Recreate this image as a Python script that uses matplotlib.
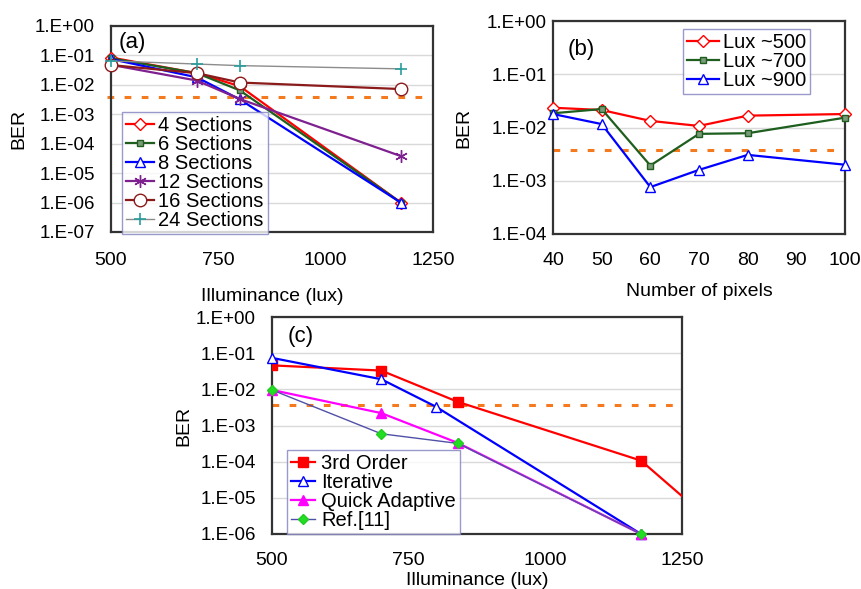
import matplotlib
matplotlib.use("Agg")
import matplotlib.pyplot as plt

plt.rcParams["font.family"] = ["Liberation Sans", "DejaVu Sans"]

# (a) BER vs illuminance for number of sections
lux_a = [500, 700, 800, 1175]
sec4 = [0.085, 0.025, 0.009, 1e-6]
sec6 = [0.08, 0.025, 0.0065, 1e-6]
sec8 = [0.075, 0.018, 0.0032, 1e-6]
sec12 = [0.048, 0.014, 0.0033, 3.8e-5]
sec16 = [0.047, 0.025, 0.012, 0.0072]
sec24 = [0.065, 0.051, 0.045, 0.035]

# (b) BER vs number of pixels
pixels = [40, 50, 60, 70, 80, 100]
lux500 = [0.0235, 0.0213, 0.0133, 0.0107, 0.0167, 0.0179]
lux700 = [0.0185, 0.0222, 0.00193, 0.0076, 0.0078, 0.0153]
lux900 = [0.0179, 0.0116, 0.00076, 0.0016, 0.00306, 0.002]

# (c) BER vs illuminance for methods
lux_3rd = [500, 700, 840, 1175, 1330]
ber_3rd = [0.046, 0.033, 0.0045, 1.07e-4, 1e-6]
lux_iter = [500, 700, 800, 1175]
ber_iter = [0.074, 0.019, 0.0033, 1e-6]
lux_quick = [500, 700, 840, 1175]
ber_quick = [0.0096, 0.0022, 3.3e-4, 1e-6]
lux_ref = [500, 700, 840, 1175]
ber_ref = [0.0096, 5.9e-4, 3.2e-4, 1e-6]

fec_limit = 3.8e-3

W, H = 862, 589
FRAME = "#333333"
GRID = "#d9d9d9"
ORANGE = "#f57a1e"
LEG_EDGE = "#8080c0"


def px_axes(fig, left, top, right, bottom):
    return fig.add_axes([left / W, 1 - bottom / H, (right - left) / W, (bottom - top) / H])


def style_axes(ax, ymin_exp, ymax_exp, ypad, xpad):
    ax.set_yscale("log")
    ax.set_ylim(10.0 ** ymin_exp, 10.0 ** ymax_exp)
    ticks = [10.0 ** e for e in range(ymin_exp, ymax_exp + 1)]
    ax.set_yticks(ticks)
    ax.set_yticklabels([f"1.E{e:+03d}" for e in range(ymin_exp, ymax_exp + 1)])
    ax.yaxis.set_minor_locator(matplotlib.ticker.NullLocator())
    ax.grid(axis="y", color=GRID, lw=1.0)
    ax.set_axisbelow(True)
    ax.tick_params(axis="y", length=0, pad=ypad, labelsize=13.5)
    ax.tick_params(axis="x", length=0, pad=xpad, labelsize=14)
    for sp in ax.spines.values():
        sp.set_color(FRAME)
        sp.set_linewidth(1.6)
        sp.set_zorder(1.8)


def fec_line(ax, x0, x1):
    ax.plot([x0, x1], [fec_limit, fec_limit], color=ORANGE, lw=2.2,
            dashes=(2.2, 3.4), clip_on=False, zorder=1.5)


def add_legend(ax, anchor, hlen, tpad):
    leg = ax.legend(loc="upper left", bbox_to_anchor=anchor, fontsize=14.5,
                    labelspacing=0.0, handlelength=hlen, handletextpad=tpad,
                    borderpad=0.2, borderaxespad=0, frameon=True, fancybox=False)
    leg.get_frame().set_edgecolor(LEG_EDGE)
    leg.get_frame().set_linewidth(1.0)
    return leg


fig = plt.figure(figsize=(W / 100, H / 100), dpi=100)

# ---------- (a)
ax = px_axes(fig, 111, 26, 433, 232)
style_axes(ax, -7, 0, 11.5, 14.5)
ax.set_xlim(500, 1250)
ax.set_xticks([500, 750, 1000, 1250])
fec_line(ax, 490, 1250)
ax.plot(lux_a, sec4, color="#ff0000", lw=1.6, marker="D", ms=6.5, mfc="white", mec="#ff0000", clip_on=False, label="4 Sections")
ax.plot(lux_a, sec6, color="#1e5e1e", lw=1.6, marker="s", ms=4, mfc="#7a9a7a", mec="#1e5e1e", clip_on=False, label="6 Sections")
ax.plot(lux_a, sec8, color="#0000ff", lw=1.6, marker="^", ms=7, mfc="white", mec="#0000ff", clip_on=False, label="8 Sections")
ax.plot(lux_a, sec12, color="#7f2090", lw=1.6, marker=(6, 2, 0), ms=9, mec="#7f2090", clip_on=False, label="12 Sections")
ax.plot(lux_a, sec16, color="#8b1a1a", lw=1.6, marker="o", ms=9, mfc="white", mec="#8b1a1a", clip_on=False, label="16 Sections")
ax.plot(lux_a, sec24, color="#8c8c8c", lw=1.0, marker="+", ms=9, mew=1.2, mec="#2a9d9d", clip_on=False, label="24 Sections")
ax.text(0.025, 0.92, "(a)", transform=ax.transAxes, fontsize=16, va="center", ha="left")
ax.set_ylabel("BER", fontsize=14)
ax.yaxis.set_label_coords(-0.26, 0.5)
ax.set_xlabel("Illuminance (lux)", fontsize=14, va="top")
ax.xaxis.set_label_coords(0.5, -0.27)
add_legend(ax, (0.034, 0.5825), 1.4, 0.2)

# ---------- (b)
ax = px_axes(fig, 553, 21, 845, 234)
style_axes(ax, -4, 0, 4.5, 13)
ax.set_xlim(40, 100)
ax.set_xticks([40, 50, 60, 70, 80, 90, 100])
fec_line(ax, 40, 100)
ax.plot(pixels, lux500, color="#ff0000", lw=1.6, marker="D", ms=6.5, mfc="white", mec="#ff0000", clip_on=False, label="Lux ~500")
ax.plot(pixels, lux700, color="#1e5e1e", lw=1.6, marker="s", ms=4.5, mfc="#7a9a7a", mec="#1e5e1e", clip_on=False, label="Lux ~700")
ax.plot(pixels, lux900, color="#0000ff", lw=1.6, marker="^", ms=7, mfc="white", mec="#0000ff", clip_on=False, label="Lux ~900")
ax.text(0.05, 0.865, "(b)", transform=ax.transAxes, fontsize=16, va="center", ha="left")
ax.set_ylabel("BER", fontsize=14)
ax.yaxis.set_label_coords(-0.275, 0.5)
ax.set_xlabel("Number of pixels", fontsize=14, va="top")
ax.xaxis.set_label_coords(0.5, -0.23)
add_legend(ax, (0.445, 0.961), 1.6, 0.2)

# ---------- (c)
ax = px_axes(fig, 272, 317, 682, 534)
style_axes(ax, -6, 0, 11.5, 13)
ax.set_xlim(500, 1250)
ax.set_xticks([500, 750, 1000, 1250])
fec_line(ax, 500, 1250)
ax.plot(lux_3rd, ber_3rd, color="#ff0000", lw=1.6, marker="s", ms=6.5, mfc="#ff0000", mec="#ff0000", label="3rd Order")
ax.plot(lux_iter, ber_iter, color="#0000ff", lw=1.6, marker="^", ms=6.5, mfc="white", mec="#0000ff", clip_on=False, label="Iterative")
ax.plot(lux_quick, ber_quick, color="#ff00ff", lw=1.6, marker="^", ms=6.5, mfc="#ff00ff", mec="#ff00ff", clip_on=False, label="Quick Adaptive")
ax.plot(lux_ref, ber_ref, color="#5050a8", lw=1.0, marker="D", ms=5, mfc="#22dd22", mec="#22cc22", clip_on=False, label="Ref.[11]")
ax.text(0.037, 0.91, "(c)", transform=ax.transAxes, fontsize=16, va="center", ha="left")
ax.set_ylabel("BER", fontsize=14)
ax.yaxis.set_label_coords(-0.195, 0.5)
ax.set_xlabel("Illuminance (lux)", fontsize=14, va="top")
ax.xaxis.set_label_coords(0.5, -0.175)
add_legend(ax, (0.037, 0.387), 1.2, 0.3)

fig.savefig("out.png", dpi=100)
